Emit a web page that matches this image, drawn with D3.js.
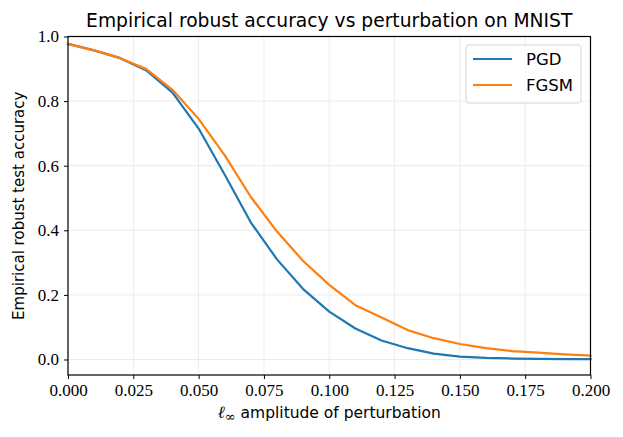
<!DOCTYPE html>
<html>
<head>
<meta charset="utf-8">
<script src="https://cdn.jsdelivr.net/npm/d3@7"></script>
<style>
  body { margin: 0; background: #fff; }
  .tick text { font-family: "Liberation Serif", "DejaVu Serif", serif; font-size: 17px; fill: #000; }
  .sans { font-family: "DejaVu Sans", sans-serif; fill: #000; }
</style>
</head>
<body>
<div id="chart"></div>
<script>
const epsilons = [0, 0.01, 0.02, 0.03, 0.04, 0.05, 0.06, 0.07, 0.08, 0.09, 0.10,
	0.11, 0.12, 0.13, 0.14, 0.15, 0.16, 0.17, 0.18, 0.19, 0.20];
const pgdAcc = [0.977, 0.957, 0.933, 0.895, 0.826, 0.715, 0.572, 0.424, 0.31, 0.218, 0.148,
	0.096, 0.059, 0.035, 0.018, 0.009, 0.005, 0.003, 0.002, 0.001, 0.001];
const fgsmAcc = [0.977, 0.957, 0.933, 0.899, 0.835, 0.745, 0.632, 0.503, 0.396, 0.305, 0.231,
	0.168, 0.13, 0.091, 0.066, 0.048, 0.035, 0.026, 0.021, 0.016, 0.012];
const xTicks = [0, 0.025, 0.05, 0.075, 0.1, 0.125, 0.15, 0.175, 0.2];
const yTicks = [0, 0.2, 0.4, 0.6, 0.8, 1.0];
const seriesNames = ["PGD", "FGSM"];
const seriesColors = ["#1f77b4", "#ff7f0e"];

const width = 623, height = 437;
const margin = {top: 36.5, right: 32.5, bottom: 62, left: 68};

const svg = d3.select('#chart').append('svg')
	.attr('width', width)
	.attr('height', height);

const x = d3.scaleLinear()
	.domain([0, 0.2])
	.range([margin.left, width - margin.right]);
const y = d3.scaleLinear()
	.domain([-0.048, 1.0])
	.range([height - margin.bottom, margin.top]);

// grid
const grid = svg.append('g');
grid.selectAll('.gx').data(xTicks).enter().append('line')
	.attr('x1', d => x(d)).attr('x2', d => x(d))
	.attr('y1', y.range()[0]).attr('y2', y.range()[1])
	.attr('stroke', '#ebebeb').attr('stroke-width', 1);
grid.selectAll('.gy').data(yTicks).enter().append('line')
	.attr('y1', d => y(d)).attr('y2', d => y(d))
	.attr('x1', x.range()[0]).attr('x2', x.range()[1])
	.attr('stroke', '#ebebeb').attr('stroke-width', 1);

// lines
const line = d3.line()
	.x((d, i) => x(epsilons[i]))
	.y(d => y(d));

[pgdAcc, fgsmAcc].forEach((s, i) => {
	svg.append('path')
		.datum(s)
		.attr('d', line)
		.attr('fill', 'none')
		.attr('stroke', seriesColors[i])
		.attr('stroke-width', 2.2)
		.attr('stroke-linejoin', 'round')
		.attr('stroke-linecap', 'square');
});

// axes
const xAxis = d3.axisBottom(x)
	.tickValues(xTicks)
	.tickFormat(d3.format('.3f'))
	.tickSizeInner(4).tickSizeOuter(0).tickPadding(5);
const yAxis = d3.axisLeft(y)
	.tickValues(yTicks)
	.tickFormat(d3.format('.1f'))
	.tickSizeInner(4).tickSizeOuter(0).tickPadding(5);

svg.append('g')
	.attr('transform', `translate(0, ${height - margin.bottom})`)
	.call(xAxis)
	.call(g => g.select('.domain').remove());
svg.append('g')
	.attr('transform', `translate(${margin.left}, 0)`)
	.call(yAxis)
	.call(g => g.select('.domain').remove());
svg.selectAll('.tick line').attr('stroke', '#000').attr('stroke-width', 1);

// frame
svg.append('rect')
	.attr('x', x.range()[0]).attr('y', y.range()[1])
	.attr('width', x.range()[1] - x.range()[0])
	.attr('height', y.range()[0] - y.range()[1])
	.attr('fill', 'none').attr('stroke', '#000').attr('stroke-width', 1.2);

// title and labels
svg.append('text').attr('class', 'sans')
	.attr('x', (x.range()[0] + x.range()[1]) / 2).attr('y', 27)
	.attr('text-anchor', 'middle').style('font-size', '18.7px')
	.text('Empirical robust accuracy vs perturbation on MNIST');

const xl = svg.append('text').attr('class', 'sans')
	.attr('x', (x.range()[0] + x.range()[1]) / 2).attr('y', 418)
	.attr('text-anchor', 'middle').style('font-size', '15.5px');
xl.append('tspan').style('font-family', '"Liberation Serif", serif').style('font-style', 'italic').style('font-size', '17px').text('ℓ');
xl.append('tspan').style('font-size', '13px').attr('dy', 3).style('font-family', '"DejaVu Serif", serif').text('∞');
xl.append('tspan').attr('dy', -3).text(' amplitude of perturbation');

svg.append('text').attr('class', 'sans')
	.attr('transform', `translate(24, ${(y.range()[0] + y.range()[1]) / 2}) rotate(-90)`)
	.attr('text-anchor', 'middle').style('font-size', '15px')
	.text('Empirical robust test accuracy');

// legend
const lg = svg.append('g').attr('transform', 'translate(466, 45)');
lg.append('rect')
	.attr('width', 115).attr('height', 58).attr('rx', 3)
	.attr('fill', '#fff').attr('fill-opacity', 0.8)
	.attr('stroke', '#d6d6d6').attr('stroke-width', 1);
seriesNames.forEach((name, i) => {
	const yy = 14 + i * 26;
	lg.append('line')
		.attr('x1', 7).attr('x2', 46).attr('y1', yy).attr('y2', yy)
		.attr('stroke', seriesColors[i]).attr('stroke-width', 2.2);
	lg.append('text').attr('class', 'sans')
		.attr('x', 60).attr('y', yy + 5.5)
		.style('font-size', '16.5px')
		.text(name);
});
</script>
</body>
</html>
